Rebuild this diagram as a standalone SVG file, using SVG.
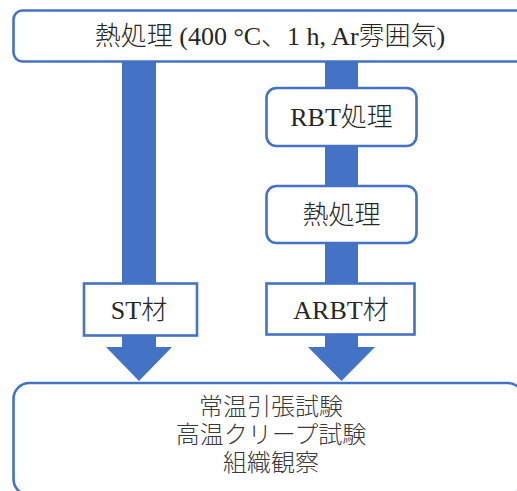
<svg xmlns="http://www.w3.org/2000/svg" width="517" height="491" viewBox="0 0 517 491">
<style>
.box{fill:#ffffff;stroke:#4472C4;stroke-width:2.6}
.arr{fill:#4472C4}
.t{font-family:"Liberation Serif","Noto Sans CJK JP",serif;fill:#262626;text-anchor:middle;font-size:26px;font-weight:300}
.j{font-family:"Noto Sans CJK JP",sans-serif;fill:#3a3a3a;text-anchor:middle;font-size:24px;font-weight:300}
</style>
<rect width="517" height="491" fill="#ffffff"/>
<g id="connectors">
<polygon class="arr" points="122,60 156,60 156,347 172,347 139,381 106,347 122,347"/>
<polygon class="arr" points="325,60 358,60 358,347 375,347 341.5,381 308,347 325,347"/>
</g>
<g id="n_top">
<rect class="box" x="13.5" y="10.5" width="520" height="51" rx="9"/>
<text class="t" x="270" y="45">熱処理 (400 °C、1 h, Ar雰囲気)</text>
</g>
<g id="n_rbt">
<rect class="box" x="266.5" y="88" width="150" height="58" rx="10"/>
<text class="t" x="341.5" y="126">RBT処理</text>
</g>
<g id="n_heat">
<rect class="box" x="266.5" y="186" width="150" height="57" rx="10"/>
<text class="t" x="341.5" y="224">熱処理</text>
</g>
<g id="n_st">
<rect class="box" x="84" y="283.5" width="113" height="52"/>
<text class="t" x="139" y="319">ST材</text>
</g>
<g id="n_arbt">
<rect class="box" x="266.5" y="283.5" width="148" height="51"/>
<text class="t" x="341" y="319">ARBT材</text>
</g>
<g id="n_tests">
<rect class="box" x="13.5" y="383" width="510" height="112" rx="16"/>
<text class="j" x="271" y="415">常温引張試験</text>
<text class="j" x="271" y="443">高温クリープ試験</text>
<text class="j" x="271" y="471">組織観察</text>
</g>
</svg>
